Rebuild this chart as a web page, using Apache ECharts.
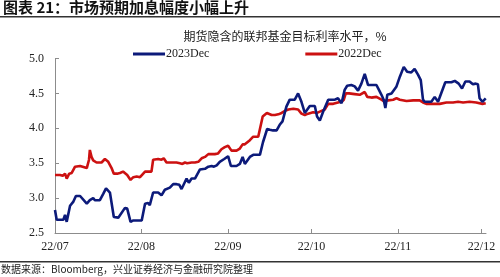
<!DOCTYPE html>
<html><head><meta charset="utf-8">
<script src="https://cdn.jsdelivr.net/npm/echarts@6/dist/echarts.min.js"></script>
<style>html,body{margin:0;padding:0;background:#fff}#c{width:500px;height:277px}</style>
</head><body><div id="c"></div>
<script>
const titleText = '图表 21：市场预期加息幅度小幅上升';
const subTitle = '期货隐含的联邦基金目标利率水平，%';
const sourceText = '数据来源：Bloomberg，兴业证券经济与金融研究院整理';
const seriesNames = ['2023Dec', '2022Dec'];
const startDate = [2022, 6, 1];           // 2022-07-01, day 0
const axisEndDay = 154.6;
const yTicks = [2.5, 3.0, 3.5, 4.0, 4.5, 5.0];

// days since 2022-07-01
const dec23Days = [0,0.6,3,3.6,4.2,5.4,6.6,7.5,9,9.6,11.4,12.5,13.7,14.3,16.1,17.3,18.3,19.7,21.1,22.7,23.3,25.1,25.9,27.1,28.1,31.1,32.3,33.4,34,35.2,37,38.2,39.4,40,41.2,42.4,43.6,44.6,45.4,47.2,48,49,50.2,50.8,52,52.6,53.8,55,56.2,57,58,59.1,60.7,62.1,63.1,65.1,66.3,67.3,68.1,69.9,71.1,73.5,74.6,76.1,77.1,78.2,79.5,80.6,81.6,83.0,84.2,86.0,87.2,88.4,89.6,90.2,91.4,93.2,94.0,95.0,96.2,98.0,100.4,101.5,102.8,103.9,104.8,106.3,107.5,108.7,109.9,111.1,112.3,113.5,115.3,116.2,117.1,117.9,118.5,119.2,120.7,121.3,122.5,123.7,125.1,126.3,127.8,129.0,130.2,131.2,132.0,132.6,133.8,135.0,136.2,137.4,138.6,140.0,141.2,142.2,143.4,144.8,146.0,147.2,148.7,149.9,150.9,151.7,152.3,153.3,154.5];
const dec23Vals = [2.83,2.69,2.69,2.76,2.66,2.89,2.95,3.03,3.03,3.02,2.92,2.97,3.00,2.97,2.97,3.06,3.14,3.08,2.73,2.72,2.73,2.86,2.85,2.66,2.68,2.68,2.92,2.93,2.90,3.08,3.08,3.04,3.12,3.10,3.15,3.20,3.20,3.19,3.13,3.28,3.22,3.28,3.28,3.30,3.41,3.39,3.42,3.45,3.46,3.45,3.47,3.52,3.56,3.60,3.46,3.46,3.49,3.59,3.49,3.59,3.62,3.62,3.80,3.99,3.98,3.97,3.97,4.05,4.10,4.31,4.41,4.41,4.50,4.38,4.22,4.24,4.32,4.32,4.17,4.11,4.24,4.41,4.41,4.43,4.36,4.55,4.61,4.62,4.60,4.54,4.64,4.78,4.62,4.62,4.62,4.55,4.48,4.41,4.29,4.48,4.50,4.49,4.60,4.74,4.88,4.81,4.80,4.85,4.77,4.69,4.41,4.38,4.38,4.38,4.45,4.38,4.51,4.66,4.66,4.66,4.68,4.64,4.57,4.67,4.67,4.63,4.64,4.63,4.43,4.38,4.43];

const dec22Days = [0,1.8,2.8,3.6,4.2,5.1,6.0,6.6,7.2,7.8,9.0,9.6,11.4,12.2,12.5,13.1,13.7,14.9,16.7,17.9,19.1,20.3,21.1,22.3,23.3,24.4,25.9,27.1,28.1,29.3,30.5,31.1,32.3,33.4,34.6,35.2,37.0,38.2,39.0,40.0,41.2,42.4,43.6,44.8,45.7,46.6,47.4,48.1,49.0,50.2,51.4,52.6,53.8,55.0,56.2,57.3,58.5,59.7,60.9,62.1,63.3,65.1,66.3,67.3,68.1,69.9,71.1,72.9,73.5,74.5,76.0,77.7,78.9,80.1,81.3,82.5,83.7,85.5,87.2,88.4,89.6,90.8,92.6,94.0,95.6,96.8,98.0,99.8,101.5,102.8,103.6,104.3,105.5,107.5,109.3,111.1,112.0,113.5,115.3,117.1,117.9,119.5,121.3,122.5,123.7,126.1,128.5,130.8,132.0,133.2,135.6,138.0,140.4,142.8,144.6,146.4,148.7,151.1,153.3,154.5];
const dec22Vals = [3.33,3.33,3.32,3.35,3.28,3.35,3.36,3.36,3.45,3.46,3.46,3.45,3.43,3.55,3.69,3.59,3.54,3.51,3.51,3.56,3.52,3.43,3.35,3.35,3.36,3.38,3.33,3.26,3.30,3.31,3.30,3.29,3.38,3.38,3.38,3.55,3.56,3.55,3.57,3.51,3.51,3.51,3.51,3.50,3.49,3.51,3.50,3.52,3.51,3.51,3.52,3.57,3.59,3.63,3.63,3.63,3.64,3.70,3.73,3.75,3.68,3.68,3.71,3.77,3.77,3.83,3.88,3.88,3.90,4.17,4.22,4.19,4.19,4.20,4.22,4.25,4.27,4.28,4.27,4.21,4.19,4.21,4.23,4.22,4.25,4.27,4.35,4.35,4.37,4.38,4.41,4.50,4.50,4.49,4.48,4.52,4.45,4.44,4.45,4.41,4.39,4.40,4.41,4.43,4.41,4.39,4.40,4.40,4.37,4.35,4.35,4.35,4.37,4.37,4.38,4.37,4.38,4.37,4.35,4.36];

const DAY = 86400000;
const t0 = new Date(startDate[0], startDate[1], startDate[2]).getTime();
const toTime = d => t0 + d * DAY;
const pairs = (days, vals) => days.map((d, i) => [toTime(d), vals[i]]);

const serif = '"Liberation Serif", "Times New Roman", serif';
const cjk = '"Noto Sans CJK SC", sans-serif';
const axisGray = '#8c8c8c';

const chart = echarts.init(document.getElementById('c'), null, {renderer: 'canvas'});
chart.setOption({
  animation: false,
  backgroundColor: '#fff',
  textStyle: {fontFamily: serif},
  title: {
    text: subTitle, left: 280, top: 25, textAlign: 'center',
    textStyle: {fontFamily: cjk, fontSize: 12, fontWeight: 'normal', color: '#222'}
  },
  legend: {
    data: seriesNames,
    top: 43, left: 128, itemGap: 96, itemWidth: 32, itemHeight: 3,
    icon: 'rect',
    textStyle: {fontFamily: serif, fontSize: 12, color: '#222', padding: [0, 0, 0, -4]}
  },
  graphic: [
    {type: 'text', left: 3, top: 0, style: {text: titleText, font: 'bold 15px "Noto Sans CJK SC", sans-serif', fill: '#111'}},
    {type: 'rect', shape: {x: 0, y: 16, width: 500, height: 1.5}, style: {fill: '#333'}},
    {type: 'rect', shape: {x: 0, y: 261, width: 500, height: 1.5}, style: {fill: '#333'}},
    {type: 'text', left: 1, top: 264, style: {text: sourceText, font: '10px "Noto Sans CJK SC", sans-serif', fill: '#222'}}
  ],
  grid: {left: 55, right: 14, top: 58.5, bottom: 44, containLabel: false},
  xAxis: {
    type: 'time',
    min: t0, max: toTime(axisEndDay),
    splitNumber: 5,
    axisLine: {lineStyle: {color: axisGray, width: 1}},
    axisTick: {show: true, inside: true, length: 4, lineStyle: {color: axisGray}},
    splitLine: {show: false},
    axisLabel: {
      fontFamily: serif, fontSize: 12, color: '#222', margin: 8,
      hideOverlap: false,
      formatter: v => { const d = new Date(v); return String(d.getFullYear()).slice(2) + '/' + String(d.getMonth() + 1).padStart(2, '0'); }
    }
  },
  yAxis: {
    type: 'value', min: yTicks[0], max: yTicks[yTicks.length - 1], interval: 0.5,
    axisLine: {show: true, lineStyle: {color: axisGray, width: 1}},
    axisTick: {show: true, inside: true, length: 4, lineStyle: {color: axisGray}},
    splitLine: {show: false},
    axisLabel: {fontFamily: serif, fontSize: 12, color: '#222', margin: 11, formatter: v => v.toFixed(1)}
  },
  series: [
    {name: seriesNames[0], type: 'line', data: pairs(dec23Days, dec23Vals), showSymbol: false, symbol: 'none',
     lineStyle: {color: '#0c1a7a', width: 2.6}, itemStyle: {color: '#0c1a7a'}, z: 3},
    {name: seriesNames[1], type: 'line', data: pairs(dec22Days, dec22Vals), showSymbol: false, symbol: 'none',
     lineStyle: {color: '#cc1111', width: 2.6}, itemStyle: {color: '#cc1111'}, z: 2}
  ]
});
</script></body></html>
